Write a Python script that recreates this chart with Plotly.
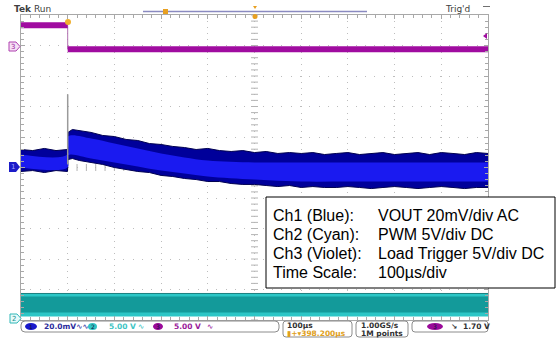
import numpy as np
import plotly.graph_objects as go

# ---------------- data ----------------
# time in microseconds (100 us/div, 10 div)
t_env = [0, 25, 50, 75, 99.5, 100.5, 110, 125, 150, 175, 200, 225, 250, 275, 300, 325, 350,
         375, 400, 425, 450, 475, 500, 525, 550, 575, 600, 625, 650, 675, 700, 725, 750,
         775, 800, 825, 850, 875, 900, 925, 950, 975, 1000]
# Ch1 VOUT (AC, mV) - outer envelope of the noisy trace
ch1_top_mv = [11.8, 11.1, 12.5, 11.1, 11.8, 23.0, 24.9, 24.3, 23.0, 21.0, 20.3, 18.4, 17.7,
              15.7, 15.1, 13.8, 13.1, 11.8, 12.5, 11.1, 10.5, 11.1, 9.8, 10.5, 9.2, 9.8, 9.2,
              9.8, 8.5, 9.2, 9.8, 8.5, 9.2, 9.8, 8.5, 9.2, 9.8, 8.5, 9.8, 9.2, 8.5, 9.8, 9.2]
ch1_bot_mv = [-2.6, -2.0, -3.3, -2.0, -2.6, 5.2, 5.9, 4.6, 3.3, 2.0, 0.0, -1.3, -2.6, -3.3,
              -5.2, -5.9, -7.2, -7.9, -9.2, -9.2, -10.5, -11.1, -11.1, -11.8, -12.5, -11.8,
              -13.1, -12.5, -13.1, -13.1, -12.5, -13.1, -13.8, -13.1, -12.5, -13.1, -13.8,
              -13.1, -12.5, -13.1, -13.8, -13.1, -13.1]
# Ch1 intensity core (most frequent values, mV)
t_core = [0, 99.5, 100.5, 150, 200, 250, 300, 350, 400, 500, 600, 700, 800, 900, 1000]
ch1_core_top_mv = [8.5, 8.5, 20.3, 19.0, 15.7, 12.5, 9.2, 6.6, 4.6, 3.3, 3.3, 3.3, 3.3, 3.3, 3.3]
ch1_core_bot_mv = [0.0, 0.0, 7.9, 5.9, 3.3, 0.7, -2.0, -3.9, -5.9, -7.9, -9.2, -9.2, -9.2, -9.2, -9.2]
# load-step spike on Ch1
spike_t = [100, 100]
spike_mv = [2.0, 48.0]

# Ch3 load trigger (V)
ch3_t = [0, 100, 100, 1000]
ch3_v = [3.3, 3.3, -0.6, -0.6]

# Ch2 PWM band (V), switching too fast to resolve
ch2_t = [0, 1000]
ch2_hi_v = [4.1, 4.1]
ch2_lo_v = [0.33, 0.33]
ch2_core_hi_v = [3.6, 3.6]
ch2_core_lo_v = [1.0, 1.0]

# channel settings
ch1_scale, ch1_pos = 20.0, 0.0      # mV/div, div
ch2_scale, ch2_pos = 5.0, -4.95     # V/div, div
ch3_scale, ch3_pos = 5.0, 4.0       # V/div, div

legend_labels = ["Ch1 (Blue):", "Ch2 (Cyan):", "Ch3 (Violet):", "Time Scale:"]
legend_values = ["VOUT 20mV/div AC", "PWM 5V/div DC", "Load Trigger 5V/div DC", "100µs/div"]


def d1(v): return [None if x is None else x / ch1_scale + ch1_pos for x in v]
def d2(v): return [x / ch2_scale + ch2_pos for x in v]
def d3(v): return [x / ch3_scale + ch3_pos for x in v]


# pixel helpers for the decorations (plot area 21..488 x 15..320)
X0, X1, Y0, Y1 = 21, 488, 15, 320
def px(x): return (x - X0) / (X1 - X0)
def py(y): return (Y1 - y) / (Y1 - Y0)


def rrect(x0, y0, x1, y1, r=3):
    L, R, T, B = px(x0), px(x1), py(y0), py(y1)
    rx, ry = r / (X1 - X0), r / (Y1 - Y0)
    return (f"M {L+rx},{T} L {R-rx},{T} Q {R},{T} {R},{T-ry} L {R},{B+ry} Q {R},{B} {R-rx},{B} "
            f"L {L+rx},{B} Q {L},{B} {L},{B+ry} L {L},{T-ry} Q {L},{T} {L+rx},{T} Z")


fig = go.Figure()

# graticule centre cross ticks
cy = np.arange(-5, 5.01, 0.2)
fig.add_trace(go.Scatter(x=[500] * len(cy), y=cy, mode="markers", hoverinfo="skip",
                         marker=dict(symbol="line-ew", size=5, line=dict(width=1, color="#b4b4b4"))))
cx = np.arange(0, 1000.1, 20)
fig.add_trace(go.Scatter(x=cx, y=[0] * len(cx), mode="markers", hoverinfo="skip",
                         marker=dict(symbol="line-ns", size=5, line=dict(width=1, color="#b4b4b4"))))

# Ch2 cyan band
fig.add_trace(go.Scatter(x=ch2_t, y=d2(ch2_lo_v), mode="lines", line=dict(width=0, color="#2cc6c6")))
fig.add_trace(go.Scatter(x=ch2_t, y=d2(ch2_hi_v), mode="lines", fill="tonexty",
                         fillcolor="#2cc6c6", line=dict(width=1, color="#1a7f7f")))
fig.add_trace(go.Scatter(x=ch2_t, y=d2(ch2_core_lo_v), mode="lines", line=dict(width=0, color="#129c9c")))
fig.add_trace(go.Scatter(x=ch2_t, y=d2(ch2_core_hi_v), mode="lines", fill="tonexty",
                         fillcolor="#139a9a", line=dict(width=0, color="#139a9a")))

# Ch1 blue band
fig.add_trace(go.Scatter(x=t_env, y=d1(ch1_bot_mv), mode="lines", line=dict(width=1, color="#000050")))
fig.add_trace(go.Scatter(x=t_env, y=d1(ch1_top_mv), mode="lines", fill="tonexty",
                         fillcolor="#00009a", line=dict(width=1, color="#000050")))
fig.add_trace(go.Scatter(x=t_core, y=d1(ch1_core_bot_mv), mode="lines", line=dict(width=0, color="#1818f5"),
                         line_shape="spline"))
fig.add_trace(go.Scatter(x=t_core, y=d1(ch1_core_top_mv), mode="lines", fill="tonexty",
                         fillcolor="#1a1af0", line=dict(width=0, color="#1a1af0"), line_shape="spline"))
fig.add_trace(go.Scatter(x=spike_t, y=d1(spike_mv), mode="lines", line=dict(width=1.5, color="#9a9a9a")))

# Ch3 violet
fig.add_trace(go.Scatter(x=ch3_t, y=d3(ch3_v), mode="lines", line=dict(width=1, color="#b070b0")))
fig.add_trace(go.Scatter(x=ch3_t[:2], y=d3(ch3_v[:2]), mode="lines", line=dict(width=6, color="#a00ca0")))
fig.add_trace(go.Scatter(x=ch3_t[2:], y=d3(ch3_v[2:]), mode="lines", line=dict(width=6, color="#a00ca0")))

axis_common = dict(showticklabels=False, zeroline=False, showline=True, linecolor="#a8a8a8",
                   linewidth=1, mirror="ticks", ticks="inside", ticklen=4, tickcolor="#a8a8a8",
                   gridcolor="#bdbdbd", gridwidth=1, fixedrange=True)
fig.update_xaxes(range=[0, 1000], dtick=100, tick0=0, griddash="1px,5.1px",
                 minor=dict(dtick=20, ticks="inside", ticklen=3, tickcolor="#a8a8a8", showgrid=False),
                 **axis_common)
fig.update_yaxes(range=[-5, 5], dtick=1, tick0=0, griddash="1px,8.3px",
                 minor=dict(dtick=0.2, ticks="inside", ticklen=3, tickcolor="#a8a8a8", showgrid=False),
                 **axis_common)

shapes = []
annotations = []

# record-view bar and markers at top
shapes.append(dict(type="line", xref="paper", yref="paper", x0=px(143), x1=px(367), y0=py(11.5), y1=py(11.5),
                   line=dict(color="#8a8ac0", width=1.5)))
shapes.append(dict(type="rect", xref="paper", yref="paper", x0=px(163), x1=px(168), y0=py(9), y1=py(14),
                   fillcolor="#e8a020", line=dict(width=0)))
shapes.append(dict(type="circle", xref="paper", yref="paper", x0=px(252.5), x1=px(257.5), y0=py(14), y1=py(19),
                   fillcolor="#e8a020", line=dict(width=0)))
shapes.append(dict(type="path", xref="paper", yref="paper",
                   path=f"M {px(253)},{py(6)} L {px(257)},{py(6)} L {px(255)},{py(9)} Z",
                   fillcolor="#e8a020", line=dict(width=0)))
shapes.append(dict(type="circle", xref="paper", yref="paper", x0=px(65), x1=px(71), y0=py(19), y1=py(25),
                   fillcolor="#f0b030", line=dict(width=0)))
# trigger level marker (violet, right)
shapes.append(dict(type="path", xref="paper", yref="paper",
                   path=f"M {px(483)},{py(36)} L {px(487)},{py(33)} L {px(487)},{py(39)} Z",
                   fillcolor="#a00ca0", line=dict(width=0)))

# channel ground markers on the left
shapes.append(dict(type="path", xref="paper", yref="paper",
                   path=f"M {px(9)},{py(162)} L {px(16)},{py(162)} L {px(20)},{py(167)} L {px(16)},{py(172)} L {px(9)},{py(172)} Z",
                   fillcolor="#1c1cc8", line=dict(width=0)))
annotations.append(dict(x=px(13), y=py(167), xref="paper", yref="paper", text="1", showarrow=False,
                        font=dict(size=7, color="#a0a0ff", family="DejaVu Sans"), xanchor="center", yanchor="middle"))
shapes.append(dict(type="path", xref="paper", yref="paper",
                   path=f"M {px(9)},{py(42)} L {px(16)},{py(42)} L {px(20)},{py(46.5)} L {px(16)},{py(51)} L {px(9)},{py(51)} Z",
                   fillcolor="#f4e0f4", line=dict(width=1, color="#b040b0")))
annotations.append(dict(x=px(13), y=py(46.5), xref="paper", yref="paper", text="3", showarrow=False,
                        font=dict(size=7, color="#a020a0", family="DejaVu Sans"), xanchor="center", yanchor="middle"))
shapes.append(dict(type="path", xref="paper", yref="paper",
                   path=f"M {px(10)},{py(314)} L {px(17)},{py(314)} L {px(21)},{py(318.5)} L {px(17)},{py(323)} L {px(10)},{py(323)} Z",
                   fillcolor="#e6fafa", line=dict(width=1, color="#30b8b8")))
annotations.append(dict(x=px(14), y=py(318.5), xref="paper", yref="paper", text="2", showarrow=False,
                        font=dict(size=7, color="#209090", family="DejaVu Sans"), xanchor="center", yanchor="middle"))

# header texts
annotations.append(dict(x=px(12), y=py(9), xref="paper", yref="paper", text="<b>Tek</b> Run", showarrow=False,
                        font=dict(size=9, color="#404040", family="DejaVu Sans"), xanchor="left", yanchor="middle"))
annotations.append(dict(x=px(443), y=py(9), xref="paper", yref="paper", text="Trig'd", showarrow=False,
                        font=dict(size=9, color="#404040", family="DejaVu Sans"), xanchor="left", yanchor="middle"))
shapes.append(dict(type="line", xref="paper", yref="paper", x0=px(483), x1=px(490), y0=py(6.5), y1=py(6.5),
                   line=dict(color="#707070", width=1)))

# status bar boxes
box_line = dict(color="#8c8c8c", width=1)
shapes.append(dict(type="path", xref="paper", yref="paper", path=rrect(21, 321, 279, 332, 4), line=box_line,
                   fillcolor="white"))
shapes.append(dict(type="path", xref="paper", yref="paper", path=rrect(283, 321, 352, 337, 3), line=box_line,
                   fillcolor="white"))
shapes.append(dict(type="path", xref="paper", yref="paper", path=rrect(356, 321, 408, 337, 3), line=box_line,
                   fillcolor="white"))
shapes.append(dict(type="path", xref="paper", yref="paper", path=rrect(412, 321, 488, 332, 3), line=box_line,
                   fillcolor="white"))

ovals = [(25, 37, "#1a1acc", "1"), (88, 97, "#30c4c4", "2"), (153, 163, "#9a0a9a", "3"), (427, 443, "#9a0a9a", "3")]
for x0, x1, col, lab in ovals:
    shapes.append(dict(type="circle", xref="paper", yref="paper", x0=px(x0), x1=px(x1), y0=py(323), y1=py(330),
                       fillcolor=col, line=dict(width=0)))
    annotations.append(dict(x=px((x0 + x1) / 2), y=py(326.5), xref="paper", yref="paper", text=lab, showarrow=False,
                            font=dict(size=6, color="#101040", family="DejaVu Sans"),
                            xanchor="center", yanchor="middle"))

status = [
    (42, 326.5, "<b>20.0mV</b>∿∿", "#2c2c9c"),
    (107, 326.5, "<b>5.00 V</b>", "#40c4c4"),
    (136, 326.5, "∿", "#40c4c4"),
    (172, 326.5, "<b>5.00 V</b>", "#9a1a9a"),
    (205, 326.5, "∿", "#9a1a9a"),
    (285, 325.5, "<b>100µs</b>", "#303030"),
    (285, 333, "<b>▮+▾398.200µs</b>", "#e0a020"),
    (359, 325.5, "<b>1.00GS/s</b>", "#303030"),
    (359, 333, "<b>1M points</b>", "#303030"),
    (449, 326.5, "<b>↘</b>", "#303030"),
    (461, 326.5, "<b>1.70 V</b>", "#303030"),
]
for x, y, txt, col in status:
    annotations.append(dict(x=px(x), y=py(y), xref="paper", yref="paper", text=txt, showarrow=False,
                            font=dict(size=7.5, color=col, family="DejaVu Sans"), xanchor="left", yanchor="middle"))

# legend text box
shapes.append(dict(type="rect", xref="paper", yref="paper", x0=px(266), x1=px(555), y0=py(197), y1=py(288),
                   fillcolor="white", line=dict(color="black", width=1), layer="above"))
rows_y = [215, 234, 253, 272]
for lab, val, yy in zip(legend_labels, legend_values, rows_y):
    annotations.append(dict(x=px(271), y=py(yy), xref="paper", yref="paper", text=lab, showarrow=False,
                            font=dict(size=16, color="black", family="Liberation Sans, Arial"),
                            xanchor="left", yanchor="middle"))
    annotations.append(dict(x=px(376), y=py(yy), xref="paper", yref="paper", text=val, showarrow=False,
                            font=dict(size=16, color="black", family="Liberation Sans, Arial"),
                            xanchor="left", yanchor="middle"))

fig.update_layout(width=559, height=339, margin=dict(l=X0, r=559 - X1, t=Y0, b=339 - Y1),
                  paper_bgcolor="white", plot_bgcolor="white", showlegend=False,
                  shapes=shapes, annotations=annotations)

fig.write_html("out.html", config={"displayModeBar": False},
               post_script="document.body.style.margin='0';document.body.style.padding='0';")
